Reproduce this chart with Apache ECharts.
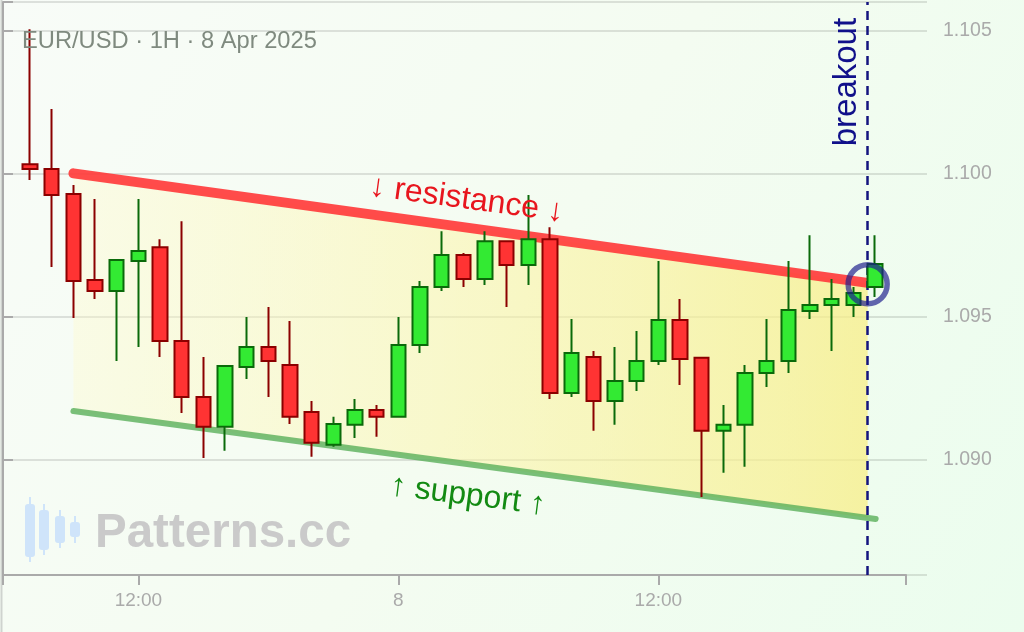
<!DOCTYPE html>
<html>
<head>
<meta charset="utf-8">
<script src="https://cdn.jsdelivr.net/npm/echarts@6/dist/echarts.min.js"></script>
<style>html,body{margin:0;padding:0;background:#f5fcf4;}#c{width:1024px;height:632px;}</style>
</head>
<body>
<div id="c"></div>
<script>
// ---- data (hourly candles, index 0 = 7 Apr 07:00) ----
const opens  = [1.10032,1.10015,1.09928,1.09627,1.09589,1.09694,1.09742,1.09414,1.09218,1.09114,1.09323,1.09393,1.09330,1.09166,1.09051,1.09121,1.09173,1.09149,1.09400,1.09603,1.09715,1.09631,1.09763,1.09680,1.09770,1.09232,1.09358,1.09204,1.09274,1.09344,1.09487,1.09355,1.09100,1.09121,1.09302,1.09344,1.09519,1.09540,1.09540,1.09603];
const closes = [1.10015,1.09924,1.09624,1.09589,1.09697,1.09729,1.09414,1.09218,1.09114,1.09327,1.09393,1.09344,1.09149,1.09058,1.09124,1.09173,1.09149,1.09400,1.09603,1.09715,1.09631,1.09763,1.09680,1.09770,1.09232,1.09372,1.09204,1.09274,1.09344,1.09487,1.09351,1.09100,1.09121,1.09302,1.09344,1.09522,1.09540,1.09561,1.09582,1.09683];
const lows   = [1.09977,1.09673,1.09494,1.09561,1.09344,1.09393,1.09358,1.09162,1.09005,1.09030,1.09281,1.09218,1.09124,1.09009,1.09044,1.09075,1.09079,1.09149,1.09372,1.09589,1.09603,1.09610,1.09533,1.09610,1.09211,1.09218,1.09100,1.09121,1.09239,1.09330,1.09260,1.08869,1.08953,1.08974,1.09253,1.09302,1.09491,1.09379,1.09498,1.09568];
const highs  = [1.10504,1.10225,1.09959,1.09910,1.09700,1.09910,1.09770,1.09833,1.09358,1.09330,1.09498,1.09533,1.09484,1.09204,1.09149,1.09211,1.09190,1.09498,1.09624,1.09798,1.09722,1.09798,1.09763,1.09924,1.09812,1.09491,1.09379,1.09393,1.09449,1.09694,1.09561,1.09358,1.09190,1.09330,1.09491,1.09694,1.09784,1.09631,1.09603,1.09784];

const xTickIdx    = [5, 17, 29];
const xTickLabels = ['12:00', '8', '12:00'];
const yTickValues = [1.090, 1.095, 1.100, 1.105];

const xMin = -1.25, xMax = 40.43;
const yMin = 1.08596, yMax = 1.10599;

const resistance = [[2, 1.10000], [38.66, 1.09617]];
const support    = [[2, 1.09169], [39.03, 1.08792]];
const breakIdx   = 38.66;
const breakPoint = [38.66, 1.09612];
const channelPoly = [[2, 1.10000], [38.66, 1.09617], [38.66, 1.08796], [2, 1.09169]];

const titleText = 'EUR/USD · 1H · 8 Apr 2025';
const FONT = '"Liberation Sans", Arial, sans-serif';

const candleData = opens.map((o, i) => [i, o, closes[i], lows[i], highs[i]]);

const chart = echarts.init(document.getElementById('c'), null, {renderer: 'canvas'});

const option = {
  animation: false,
  backgroundColor: new echarts.graphic.LinearGradient(0, 0, 1, 1, [
    {offset: 0, color: '#f8fcf8'}, {offset: 0.5, color: '#f4fcf1'}, {offset: 1, color: '#ebfdee'}
  ]),
  grid: [
    {left: 3, right: 118, top: 2, bottom: 57},
    {left: 3, right: 97, top: 2, bottom: 57}
  ],
  xAxis: [
    {
      type: 'value', gridIndex: 0, min: xMin, max: xMax,
      axisLine: {show: true, lineStyle: {color: '#aaaaaa', width: 2}},
      axisTick: {show: true, length: 10, lineStyle: {color: '#aaaaaa', width: 2},
                 customValues: [xMin].concat(xTickIdx, [xMax])},
      axisLabel: {show: true, customValues: xTickIdx, margin: 16, color: '#aaaaaa',
                  fontSize: 19, fontFamily: FONT,
                  formatter: v => { const k = xTickIdx.indexOf(Math.round(v)); return k >= 0 ? xTickLabels[k] : ''; }},
      splitLine: {show: false}
    },
    {type: 'value', gridIndex: 1, min: 0, max: 1, show: false}
  ],
  yAxis: [
    {type: 'value', gridIndex: 0, min: yMin, max: yMax, show: false, splitLine: {show: false}},
    {
      type: 'value', gridIndex: 1, min: yMin, max: yMax, position: 'right',
      axisLine: {show: true, lineStyle: {color: '#aaaaaa', width: 2}},
      axisTick: {show: true, length: 10, lineStyle: {color: '#aaaaaa', width: 2},
                 customValues: [yMin].concat(yTickValues, [yMax])},
      axisLabel: {show: true, customValues: yTickValues, margin: 16, color: '#aaaaaa',
                  fontSize: 19.5, fontFamily: FONT, formatter: v => v.toFixed(3)},
      splitLine: {show: true, lineStyle: {color: 'rgba(0,0,0,0.11)', width: 2}}
    }
  ],
  series: [
    {
      type: 'custom', xAxisIndex: 0, yAxisIndex: 0, z: 1, silent: true,
      data: [0],
      renderItem: (params, api) => ({
        type: 'polygon',
        shape: {points: channelPoly.map(p => api.coord(p))},
        style: {fill: new echarts.graphic.LinearGradient(0, 0, 1, 0, [
          {offset: 0, color: 'rgba(255,250,200,0.35)'},
          {offset: 1, color: 'rgba(248,238,135,0.75)'}
        ])}
      })
    },
    {
      type: 'line', xAxisIndex: 0, yAxisIndex: 0, z: 3, data: support,
      symbol: 'none', silent: true,
      lineStyle: {color: 'rgba(90,175,90,0.8)', width: 6, cap: 'round'}
    },
    {
      type: 'line', xAxisIndex: 0, yAxisIndex: 0, z: 3, data: resistance,
      symbol: 'none', silent: true,
      lineStyle: {color: 'rgba(255,60,60,0.92)', width: 10, cap: 'round'}
    },
    {
      type: 'candlestick', xAxisIndex: 0, yAxisIndex: 0, z: 5,
      data: candleData, encode: {x: 0, y: [1, 2, 3, 4]},
      barWidth: 15,
      itemStyle: {color: '#33ea33', color0: '#ff3333', borderColor: '#0a6a0a',
                  borderColor0: '#8b0000', borderWidth: 2},
      markLine: {
        silent: true, symbol: 'none', label: {show: false},
        lineStyle: {color: '#14147f', width: 2.5, type: [9, 6]},
        data: [{xAxis: breakIdx}]
      }
    },
    {
      type: 'scatter', xAxisIndex: 0, yAxisIndex: 0, z: 8, silent: true,
      data: [breakPoint], symbol: 'circle', symbolSize: 39,
      itemStyle: {color: 'rgba(0,0,0,0)', borderColor: 'rgba(30,30,140,0.85)', borderWidth: 5.5}
    }
  ]
};
chart.setOption(option);

const px = p => chart.convertToPixel({xAxisIndex: 0, yAxisIndex: 0}, p);
const rPos = px([20.15, 1.09908]);
const sPos = px([20.2, 1.08873]);
const bPos = px([37.7, 1.10319]);
const ang = -0.135;

const wmCandles = [[30, 497, 504, 557, 562], [44, 504, 510, 550, 555], [60, 510, 516, 543, 548], [75, 516, 522, 537, 543]];
const graphics = [
  {type: 'line', shape: {x1: 1.5, y1: 0, x2: 1.5, y2: 632}, style: {stroke: '#cfd3cf', lineWidth: 2}, z: 0},
  {type: 'text', x: 22, y: 41.5, z: 10,
   style: {text: titleText, font: '23.7px ' + FONT, fill: '#7f8a7f', align: 'left', verticalAlign: 'middle'}},
  {type: 'text', x: 95, y: 534, z: 10,
   style: {text: 'Patterns.cc', font: 'bold 47.5px ' + FONT, fill: '#cacaca', align: 'left', verticalAlign: 'middle'}},
  {type: 'text', x: rPos[0], y: rPos[1], rotation: ang, z: 10,
   style: {text: '↓ resistance ↓', font: '32px ' + FONT, fill: '#e8161e', align: 'center', verticalAlign: 'middle'}},
  {type: 'text', x: sPos[0], y: sPos[1], rotation: ang * 0.95, z: 10,
   style: {text: '↑ support ↑', font: '32px ' + FONT, fill: '#138a13', align: 'center', verticalAlign: 'middle'}},
  {type: 'text', x: bPos[0], y: bPos[1], rotation: Math.PI / 2, z: 10,
   style: {text: 'breakout', font: '33px ' + FONT, fill: '#10108a', align: 'center', verticalAlign: 'middle'}}
];
wmCandles.forEach(c => {
  graphics.push({type: 'rect', z: 9, shape: {x: c[0] - 1, y: c[1], width: 2, height: c[4] - c[1]}, style: {fill: '#cfe4fa'}});
  graphics.push({type: 'rect', z: 9, shape: {x: c[0] - 5, y: c[2], width: 10, height: c[3] - c[2], r: 3}, style: {fill: '#cfe4fa'}});
});
chart.setOption({graphic: graphics});
</script>
</body>
</html>
